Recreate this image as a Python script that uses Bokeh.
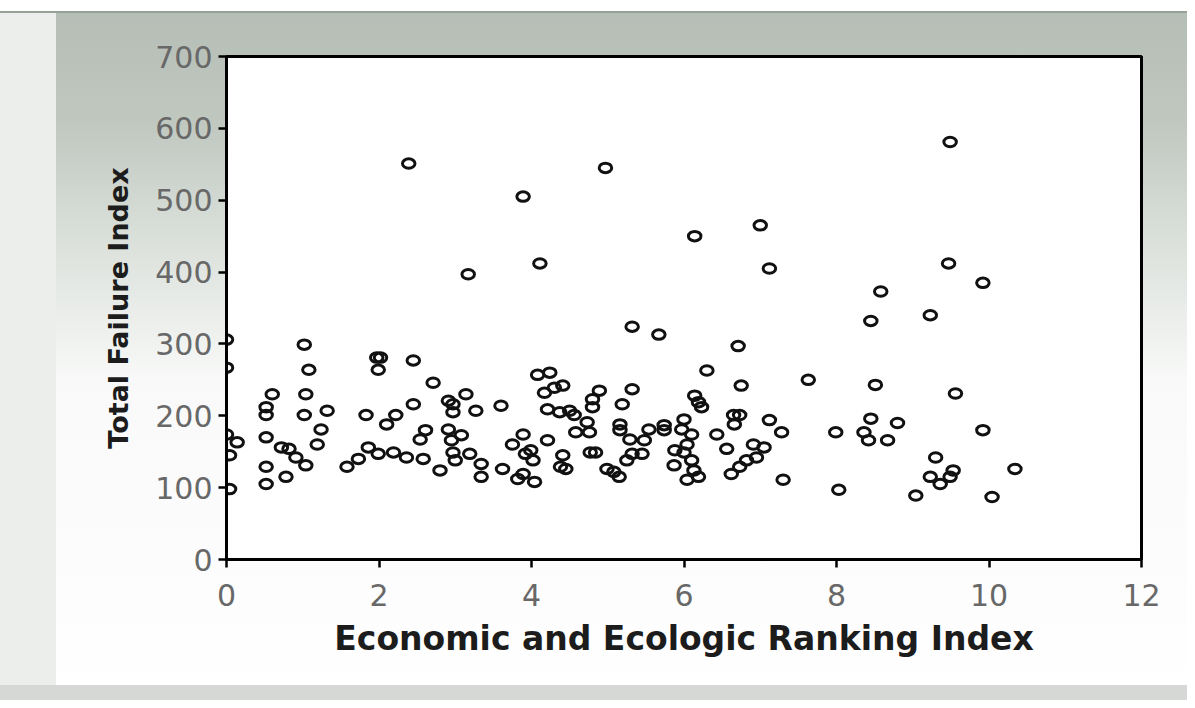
from bokeh.plotting import figure
from bokeh.models import Range1d, FixedTicker, ColumnDataSource
from bokeh.embed import file_html
from bokeh.resources import INLINE

# Economic and Ecologic Ranking Index (x) vs Total Failure Index (y)
ranking_index = [
    2.39, 3.89, 4.97, 3.17, 4.11, 6.14, 7.00, 7.12, 9.49, 9.47, 9.92, 8.58, 8.45, 9.23,
    5.32, 5.67, 6.71, 6.30, 6.75, 7.63, 8.51, 9.56,
    0.00, 0.00, 0.00, 0.14, 0.04, 0.04,
    0.60, 0.52, 0.52, 0.52, 0.72, 0.82, 0.91, 0.52, 0.52, 0.78,
    1.02, 1.08, 1.04, 1.02, 1.32, 1.24, 1.19, 1.04, 1.58, 1.73, 1.86, 1.99, 1.83,
    1.97, 2.02, 1.99, 2.10, 2.22, 2.19, 2.36, 2.45, 2.45, 2.71, 2.61, 2.54, 2.58, 2.80,
    2.91, 2.97, 2.97, 3.14, 3.27, 2.91, 3.08, 2.95, 2.97, 3.00, 3.19, 3.34, 3.34,
    3.60, 3.62, 3.75, 3.82, 3.89, 3.92,
    4.08, 4.24, 4.17, 4.30, 4.41, 4.21, 4.37, 4.50, 4.56, 4.89, 4.80, 4.80, 4.73,
    4.58, 4.76, 4.21, 3.99, 4.02, 4.41, 4.38, 4.45, 3.89, 4.04, 4.77, 4.84, 4.99,
    5.08, 5.15, 5.19, 5.32, 5.16, 5.16, 5.29, 5.48, 5.32, 5.25, 5.45, 5.54, 5.74,
    5.74, 6.00, 5.97, 6.10, 6.04, 5.88, 6.00, 5.87, 6.10, 6.13, 6.04, 6.19, 6.14,
    6.19, 6.23, 6.43, 6.56, 6.62, 6.65, 6.73, 6.66, 7.12, 7.28, 6.91, 7.05, 6.95,
    6.82, 6.73, 7.30, 7.99, 8.03,
    8.45, 8.36, 8.80, 8.42, 8.67, 9.92, 9.30, 10.34, 9.23, 9.36, 9.49, 9.53, 9.04, 10.04,
]
failure_index = [
    551, 505, 545, 397, 412, 450, 465, 405, 581, 412, 385, 373, 332, 340,
    324, 313, 297, 263, 242, 250, 243, 231,
    306, 267, 174, 163, 145, 98,
    230, 212, 201, 170, 156, 154, 142, 129, 105, 115,
    299, 264, 230, 201, 207, 181, 160, 131, 129, 140, 156, 147, 201,
    281, 281, 264, 188, 201, 149, 142, 277, 216, 246, 180, 167, 140, 124,
    221, 216, 205, 230, 207, 181, 173, 166, 149, 138, 147, 133, 115,
    214, 126, 160, 112, 174, 147,
    257, 260, 232, 239, 242, 209, 205, 207, 201, 235, 223, 212, 191,
    177, 177, 166, 152, 138, 145, 129, 126, 119, 108, 149, 149, 126,
    122, 115, 216, 237, 188, 180, 167, 166, 147, 138, 147, 181, 187,
    180, 195, 181, 174, 160, 152, 149, 131, 138, 124, 111, 115, 228,
    219, 212, 174, 154, 119, 201, 201, 188, 194, 177, 160, 156, 142,
    138, 129, 111, 177, 97,
    196, 177, 190, 166, 166, 180, 142, 126, 115, 105, 115, 124, 89, 87,
]

x_ticks = [0, 2, 4, 6, 8, 10, 12]
y_ticks = [0, 100, 200, 300, 400, 500, 600, 700]
x_title = "Economic and Ecologic Ranking Index"
y_title = "Total Failure Index"

src = ColumnDataSource(dict(x=ranking_index, y=failure_index))

p = figure(
    frame_width=915, frame_height=503,
    min_border_left=226, min_border_top=56, min_border_right=46, min_border_bottom=141,
    x_range=Range1d(0, 12), y_range=Range1d(0, 700),
    output_backend="svg", toolbar_location=None,
    background_fill_color="white", border_fill_color=None,
)

p.styles = {
    "background": (
        "linear-gradient(to bottom, #ffffff 0px, #ffffff 11px, #98a198 11px, #98a198 13px, transparent 13px),"
        "linear-gradient(to bottom, transparent 685px, #d5d8d5 685px),"
        "linear-gradient(to right, #eceeec 0px, #eceeec 56px, transparent 56px),"
        "linear-gradient(to bottom, #b4bdb5 0px, #bfc7bf 120px, #dde2dd 250px, #f8f9f8 380px, #ffffff 100%)"
    )
}

p.grid.visible = False
p.outline_line_color = "black"
p.outline_line_width = 3
p.outline_line_alpha = 1

for ax in (p.xaxis[0], p.yaxis[0]):
    ax.axis_line_width = 3
    ax.axis_line_color = "black"
    ax.major_tick_line_width = 2.5
    ax.major_tick_line_color = "black"
    ax.major_tick_out = 8
    ax.major_tick_in = 0
    ax.minor_tick_line_color = None
    ax.major_label_text_font = "DejaVu Sans"
    ax.major_label_text_font_size = "30px"
    ax.major_label_text_color = "#686868"
    ax.axis_label_text_font = "DejaVu Sans"
    ax.axis_label_text_font_style = "bold"
    ax.axis_label_text_color = "#1c1c1c"

p.xaxis.ticker = FixedTicker(ticks=x_ticks)
p.yaxis.ticker = FixedTicker(ticks=y_ticks)
p.xaxis.axis_label = x_title
p.yaxis.axis_label = y_title
p.xaxis.axis_label_text_font_size = "33px"
p.yaxis.axis_label_text_font_size = "27px"
p.xaxis.major_label_standoff = 16
p.yaxis.major_label_standoff = 6
p.xaxis.axis_label_standoff = 10
p.yaxis.axis_label_standoff = 18

p.ellipse(x="x", y="y", width=12.5, height=9.5, width_units="screen", height_units="screen",
          source=src, fill_color="white", fill_alpha=0.0,
          line_color="#111111", line_width=3)

open("out.html", "w").write(file_html(p, INLINE))
